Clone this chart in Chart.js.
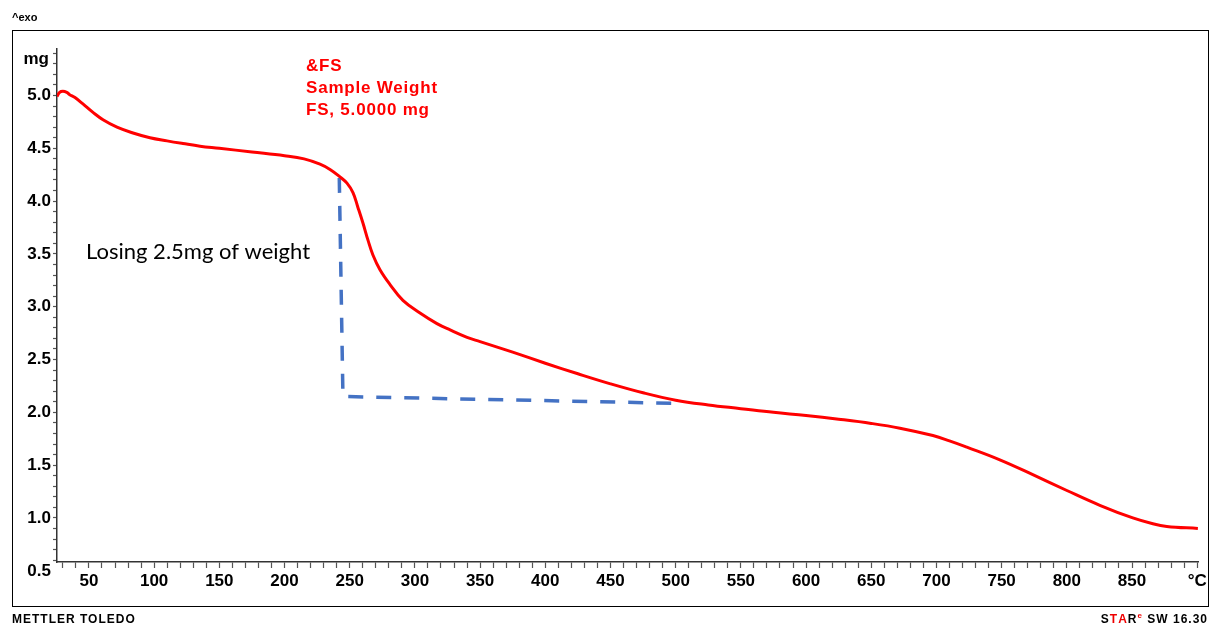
<!DOCTYPE html>
<html>
<head>
<meta charset="utf-8">
<script src="https://cdn.jsdelivr.net/npm/chart.js@4.4.1/dist/chart.umd.min.js"></script>
<style>
  html, body { margin: 0; padding: 0; background: #fff; }
  #wrap { width: 1210px; height: 623px; position: relative; }
</style>
</head>
<body>
<div id="wrap"><canvas id="c" width="1210" height="623"></canvas></div>
<script>
// ---- data ----
const temps = [25.5, 27.5, 30, 33, 35, 39.3, 45.4, 53.1, 60.8, 71.5, 83.8, 96.8, 109.9, 122.1, 135.2,
  150, 175, 200, 215, 227.2, 234.9, 242.5, 247.9, 252.5, 256.3, 260.2, 264, 267.8, 273.2, 280.9,
  290.8, 303.9, 316.9, 327, 340, 350, 375, 400, 425, 450, 475, 500, 525, 550, 575, 600, 625, 650, 672,
  697.3, 710, 723.3, 748.6, 773.9, 800, 825.3, 850.6, 866, 876.7, 900.5];
const weights = [4.99, 5.03, 5.04, 5.03, 5.01, 4.98, 4.92, 4.84, 4.77, 4.70, 4.645, 4.60, 4.57, 4.545, 4.52,
  4.50, 4.465, 4.43, 4.40, 4.35, 4.30, 4.23, 4.17, 4.08, 3.94, 3.79, 3.63, 3.49, 3.35, 3.21,
  3.06, 2.94, 2.84, 2.78, 2.71, 2.67, 2.57, 2.465, 2.365, 2.27, 2.185, 2.115, 2.07, 2.035, 2.00, 1.97, 1.935, 1.895, 1.85,
  1.78, 1.73, 1.67, 1.55, 1.41, 1.26, 1.12, 1.00, 0.945, 0.92, 0.90];
const guideT = [242, 244.8, 502];
const guideW = [4.22, 2.15, 2.085];
const xMajorStep = 50;
const yMajorStep = 0.5;
const bottomYLabel = 0.5;
const xEndLabel = '°C';
const yUnit = 'mg';
const titleLines = ['&FS', 'Sample Weight', 'FS, 5.0000 mg'];
const noteText = 'Losing 2.5mg of weight';

const FONT = '"Liberation Sans", Arial, sans-serif';

const curve = temps.map((t, i) => ({ x: t, y: weights[i] }));
const guide = guideT.map((t, i) => ({ x: t, y: guideW[i] }));

const decor = {
  id: 'decor',
  afterDraw(chart) {
    const ctx = chart.ctx;
    const ys = chart.scales.y;
    ctx.save();
    // outer frame
    ctx.strokeStyle = '#000';
    ctx.lineWidth = 1;
    ctx.strokeRect(12.5, 30.5, 1196, 576);
    // ^exo
    ctx.fillStyle = '#000';
    ctx.font = 'bold 11px ' + FONT;
    ctx.textBaseline = 'middle';
    ctx.textAlign = 'left';
    ctx.fillText('^exo', 12, 18);
    // unit label
    ctx.font = 'bold 17px ' + FONT;
    ctx.textAlign = 'right';
    ctx.fillText(yUnit, 49, 59);
    // bottom y label
    ctx.fillText(bottomYLabel.toFixed(1), 51, ys.getPixelForValue(bottomYLabel) + 1);
    // footer
    ctx.font = 'bold 12px ' + FONT;
    ctx.textAlign = 'left';
    ctx.textBaseline = 'alphabetic';
    ctx.letterSpacing = '1px';
    ctx.fillText('METTLER TOLEDO', 12, 623);
    const parts = [['S', '#000'], ['T', '#e00'], ['A', '#e00'], ['R', '#000']];
    const rest = ' SW 16.30';
    const wRest = ctx.measureText(rest).width;
    const wParts = parts.reduce((s, p) => s + ctx.measureText(p[0]).width, 0);
    ctx.font = 'bold 8px ' + FONT;
    const wE = ctx.measureText('e').width;
    let x0 = 1208 - wRest - wParts - wE;
    ctx.font = 'bold 12px ' + FONT;
    for (const p of parts) {
      ctx.fillStyle = p[1];
      ctx.fillText(p[0], x0, 623);
      x0 += ctx.measureText(p[0]).width;
    }
    ctx.font = 'bold 8px ' + FONT;
    ctx.fillStyle = '#e00';
    ctx.fillText('e', x0, 618);
    x0 += wE;
    ctx.font = 'bold 12px ' + FONT;
    ctx.fillStyle = '#000';
    ctx.fillText(rest, x0, 623);
    // red title
    ctx.fillStyle = '#ff0000';
    ctx.font = 'bold 17px ' + FONT;
    ctx.letterSpacing = '0.8px';
    titleLines.forEach((l, i) => ctx.fillText(l, 306, 71 + i * 22));
    // note
    ctx.letterSpacing = '0px';
    ctx.fillStyle = '#000';
    ctx.font = '22px Lato, "Open Sans", sans-serif';
    ctx.fillText(noteText, 86, 259);
    ctx.restore();
  }
};

new Chart(document.getElementById('c'), {
  type: 'line',
  data: {
    datasets: [
      {
        data: curve,
        borderColor: '#ff0000',
        borderWidth: 3,
        pointRadius: 0,
        tension: 0.4,
        fill: false
      },
      {
        data: guide,
        borderColor: '#4472c4',
        borderWidth: 3.5,
        borderDash: [15, 13],
        pointRadius: 0,
        tension: 0,
        fill: false
      }
    ]
  },
  options: {
    responsive: false,
    animation: false,
    devicePixelRatio: 1,
    layout: { padding: { top: 49, right: 12, left: 0, bottom: 0 } },
    plugins: { legend: { display: false }, tooltip: { enabled: false } },
    scales: {
      x: {
        type: 'linear',
        min: 25.5,
        max: 900.6,
        afterFit(s) { s.height = 61; },
        border: { color: '#333', width: 1.5 },
        grid: { drawOnChartArea: false, tickLength: 6, color: '#555', tickWidth: 1.2 },
        ticks: {
          stepSize: 10,
          includeBounds: false,
          autoSkip: false,
          maxRotation: 0,
          padding: 3,
          color: '#000',
          font: { family: FONT, size: 17, weight: 'bold' },
          callback(v) {
            if (Math.abs(v % xMajorStep) > 1e-6) return '';
            return v >= 900 ? xEndLabel : String(v);
          }
        }
      },
      y: {
        type: 'linear',
        min: 0.583,
        max: 5.44,
        afterFit(s) { s.width = 57; },
        border: { color: '#333', width: 1.5 },
        grid: { drawOnChartArea: false, tickLength: 4, color: '#555', tickWidth: 1.2 },
        ticks: {
          stepSize: 0.1,
          includeBounds: false,
          autoSkip: false,
          padding: 2,
          color: '#000',
          font: { family: FONT, size: 17, weight: 'bold' },
          callback(v) {
            const k = v / yMajorStep;
            if (Math.abs(k - Math.round(k)) > 1e-6 || v > 5.01) return '';
            return v.toFixed(1);
          }
        }
      }
    }
  },
  plugins: [decor]
});
</script>
</body>
</html>
